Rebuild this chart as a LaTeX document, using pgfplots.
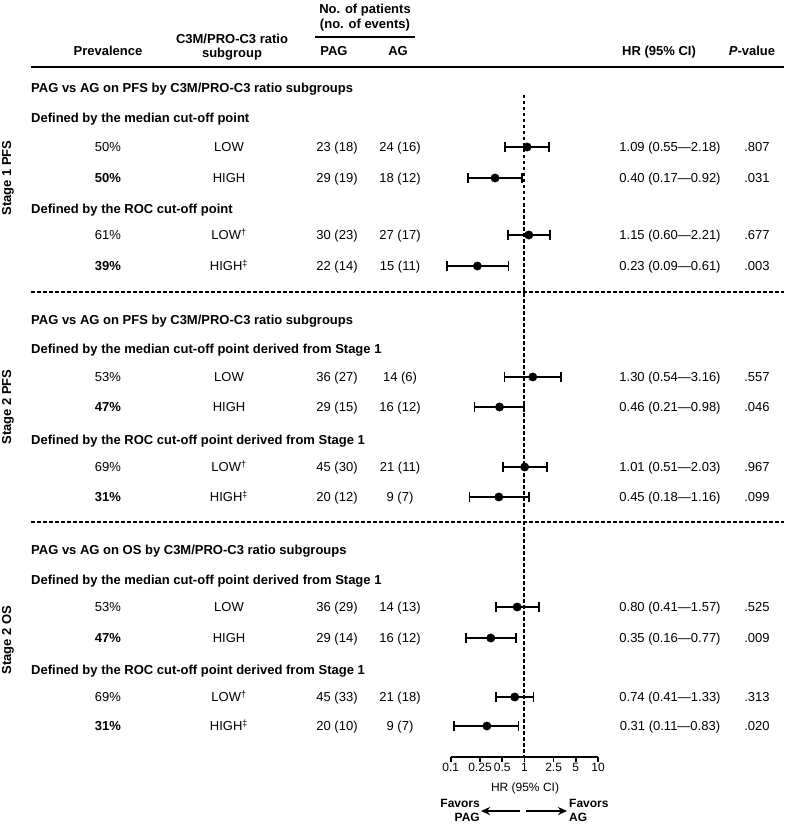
\documentclass[border=0pt]{standalone}
\usepackage{pgfplots}
\pgfplotsset{compat=1.18}
\usepackage{fontspec}
\setmainfont{Liberation Sans}
\usetikzlibrary{arrows.meta}
\newcommand{\fr}{\fontsize{13}{14}\selectfont}
\newcommand{\fbb}{\fontsize{13}{14}\selectfont\bfseries}
\newcommand{\fs}{\fontsize{12}{13}\selectfont}
\newcommand{\fsb}{\fontsize{12}{13}\selectfont\bfseries}
% one table row: y, prevalence, subgroup, PAG, AG, HR text, p
\newcommand{\row}[7]{%
  \node[anchor=base] at (108,#1+4.6) {#2};
  \node[anchor=base] at (229,#1+4.6) {#3};
  \node[anchor=base] at (337,#1+4.6) {#4};
  \node[anchor=base] at (400,#1+4.6) {#5};
  \node[anchor=base] at (670,#1+4.6) {#6};
  \node[anchor=base] at (757,#1+4.6) {#7};
}
\begin{document}
\begin{tikzpicture}
\begin{axis}[
  at={(450.7pt,-757pt)}, anchor=south west,
  width=147.3pt, height=690pt, scale only axis,
  xmode=log, xmin=0.1, xmax=10, ymin=-757, ymax=-67,
  axis x line*=bottom, axis y line=none,
  axis line style={-, line width=1.6pt},
  xtick={0.1,0.25,0.5,1,2.5,5,10},
  xticklabels={0.1,0.25,0.5,1,2.5,5,10},
  minor xtick={},
  tick align=outside, major tick length=5pt,
  every tick/.style={black, line width=1.6pt},
  xticklabel style={font=\fs, inner sep=1pt},
  /pgf/number format/assume math mode=true,
  clip=false,
]
% reference line at HR = 1
\addplot[black, line width=2pt, dash pattern=on 3.5pt off 2.5pt] coordinates {(1,-95) (1,-757)};
% confidence intervals
\pgfplotsset{cistyle/.style={black, line width=1.7pt, mark=|, mark size=5pt, mark options={solid, line width=1.7pt}}}
\addplot[cistyle] coordinates {(0.55,-147) (2.18,-147)};
\addplot[cistyle] coordinates {(0.17,-178) (0.92,-178)};
\addplot[cistyle] coordinates {(0.60,-235) (2.21,-235)};
\addplot[cistyle] coordinates {(0.09,-266) (0.61,-266)};
\addplot[cistyle] coordinates {(0.54,-377) (3.16,-377)};
\addplot[cistyle] coordinates {(0.21,-407) (0.98,-407)};
\addplot[cistyle] coordinates {(0.51,-467) (2.03,-467)};
\addplot[cistyle] coordinates {(0.18,-497) (1.16,-497)};
\addplot[cistyle] coordinates {(0.41,-607) (1.57,-607)};
\addplot[cistyle] coordinates {(0.16,-638) (0.77,-638)};
\addplot[cistyle] coordinates {(0.41,-697) (1.33,-697)};
\addplot[cistyle] coordinates {(0.11,-726) (0.83,-726)};
% hazard ratios
\addplot[only marks, mark=*, mark size=4.2pt, black] coordinates {
 (1.09,-147) (0.40,-178) (1.15,-235) (0.23,-266)
 (1.30,-377) (0.46,-407) (1.01,-467) (0.45,-497)
 (0.80,-607) (0.35,-638) (0.74,-697) (0.31,-726)};
\end{axis}
\begin{scope}[x=1pt,y=-1pt, every node/.style={inner sep=0pt, font=\fr}]
% header
\node[anchor=base, font=\fbb] at (365,13.6) {No. of patients};
\node[anchor=base, font=\fbb] at (365,28.6) {(no. of events)};
\draw[line width=2pt] (315,37) -- (415,37);
\node[anchor=base, font=\fbb] at (108,55.6) {Prevalence};
\node[anchor=base, font=\fbb] at (232,43.6) {C3M/PRO-C3 ratio};
\node[anchor=base, font=\fbb] at (232,57.6) {subgroup};
\node[anchor=base, font=\fbb] at (334,55.6) {PAG};
\node[anchor=base, font=\fbb] at (398,55.6) {AG};
\node[anchor=base, font=\fbb] at (659,55.6) {HR (95\% CI)};
\node[anchor=base, font=\fbb] at (752,55.6) {\textit{P}-value};
\draw[line width=2.2pt] (31,67) -- (784,67);
% separators
\draw[line width=1.5pt, dash pattern=on 3.5pt off 2.5pt] (31,292) -- (784,292);
\draw[line width=1.5pt, dash pattern=on 3.5pt off 2.5pt] (31,522) -- (784,522);
% stage labels
\node[rotate=90, font=\fbb] at (8,178) {Stage 1 PFS};
\node[rotate=90, font=\fbb] at (8,407) {Stage 2 PFS};
\node[rotate=90, font=\fbb] at (8,640) {Stage 2 OS};
% Stage 1
\node[anchor=base west, font=\fbb] at (31,92.6) {PAG vs AG on PFS by C3M/PRO-C3 ratio subgroups};
\node[anchor=base west, font=\fbb] at (31,122.6) {Defined by the median cut-off point};
\row{147}{50\%}{LOW}{23 (18)}{24 (16)}{1.09 (0.55—2.18)}{.807}
\row{178}{\textbf{50\%}}{HIGH}{29 (19)}{18 (12)}{0.40 (0.17—0.92)}{.031}
\node[anchor=base west, font=\fbb] at (31,213.6) {Defined by the ROC cut-off point};
\row{235}{61\%}{LOW\textsuperscript{†}}{30 (23)}{27 (17)}{1.15 (0.60—2.21)}{.677}
\row{266}{\textbf{39\%}}{HIGH\textsuperscript{‡}}{22 (14)}{15 (11)}{0.23 (0.09—0.61)}{.003}
% Stage 2 PFS
\node[anchor=base west, font=\fbb] at (31,324.6) {PAG vs AG on PFS by C3M/PRO-C3 ratio subgroups};
\node[anchor=base west, font=\fbb] at (31,353.6) {Defined by the median cut-off point derived from Stage 1};
\row{377}{53\%}{LOW}{36 (27)}{14 (6)}{1.30 (0.54—3.16)}{.557}
\row{407}{\textbf{47\%}}{HIGH}{29 (15)}{16 (12)}{0.46 (0.21—0.98)}{.046}
\node[anchor=base west, font=\fbb] at (31,444.6) {Defined by the ROC cut-off point derived from Stage 1};
\row{467}{69\%}{LOW\textsuperscript{†}}{45 (30)}{21 (11)}{1.01 (0.51—2.03)}{.967}
\row{497}{\textbf{31\%}}{HIGH\textsuperscript{‡}}{20 (12)}{9 (7)}{0.45 (0.18—1.16)}{.099}
% Stage 2 OS
\node[anchor=base west, font=\fbb] at (31,554.6) {PAG vs AG on OS by C3M/PRO-C3 ratio subgroups};
\node[anchor=base west, font=\fbb] at (31,584.6) {Defined by the median cut-off point derived from Stage 1};
\row{607}{53\%}{LOW}{36 (29)}{14 (13)}{0.80 (0.41—1.57)}{.525}
\row{638}{\textbf{47\%}}{HIGH}{29 (14)}{16 (12)}{0.35 (0.16—0.77)}{.009}
\node[anchor=base west, font=\fbb] at (31,674.6) {Defined by the ROC cut-off point derived from Stage 1};
\row{697}{69\%}{LOW\textsuperscript{†}}{45 (33)}{21 (18)}{0.74 (0.41—1.33)}{.313}
\row{726}{\textbf{31\%}}{HIGH\textsuperscript{‡}}{20 (10)}{9 (7)}{0.31 (0.11—0.83)}{.020}
% bottom annotations
\node[anchor=base, font=\fs] at (525,791) {HR (95\% CI)};
\node[anchor=base east, font=\fsb] at (480,807.3) {Favors};
\node[anchor=base east, font=\fsb] at (480,821.3) {PAG};
\node[anchor=base west, font=\fsb] at (569,807.3) {Favors};
\node[anchor=base west, font=\fsb] at (569,821.3) {AG};
\draw[line width=1.6pt, -{Stealth[length=9pt, width=8pt]}] (520,811) -- (481,811);
\draw[line width=1.6pt, -{Stealth[length=9pt, width=8pt]}] (526,811) -- (567,811);
\end{scope}
\pgfresetboundingbox
\useasboundingbox (0pt,0pt) rectangle (784pt,-826pt);
\end{tikzpicture}
\end{document}
